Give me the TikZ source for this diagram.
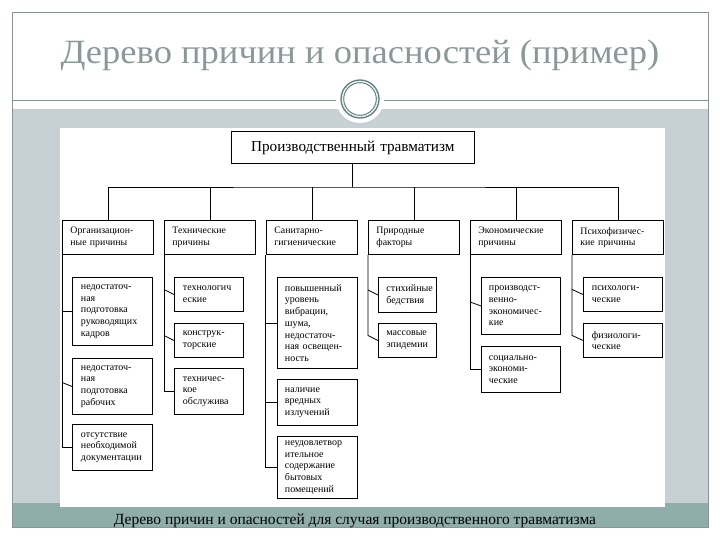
\documentclass[tikz,border=0pt]{standalone}
\usepackage{fontspec}
\setmainfont{Liberation Serif}
\usetikzlibrary{calc}
\definecolor{bandgray}{HTML}{C6D0D5}
\definecolor{bandteal}{HTML}{8FADAB}
\definecolor{framecol}{HTML}{8A9494}
\definecolor{titlecol}{HTML}{8A9898}
\definecolor{ringcol}{HTML}{5F8080}
\tikzset{
  bx/.style={draw=black, line width=0.9pt, fill=white, anchor=north west, align=left, inner ysep=2pt},
  lvtwo/.style={bx, inner xsep=8pt, text width=75pt, minimum height=34pt, font=\fontsize{9.8}{11.5}\selectfont},
  lvthree/.style={bx, inner xsep=8.5pt, font=\fontsize{10}{11.7}\selectfont},
  conn/.style={draw=black, line width=0.8pt}
}
\begin{document}
\begin{tikzpicture}[x=1pt, y=-1pt]
\useasboundingbox (0,0) rectangle (720,540);
% slide background
\fill[bandgray] (12,109) rectangle (708,503);
\fill[bandteal] (12,503) rectangle (708,527);
\draw[framecol, line width=0.7pt] (12,12) rectangle (708,527);
\draw[framecol, line width=0.8pt] (12,100) -- (708,100);
\fill[white] (60,128) rectangle (665,507);
\fill[white] (360,99) circle (24);
\draw[ringcol, line width=1.3pt] (360,99) circle (19);
\draw[ringcol, line width=1.0pt] (360,99) circle (16.3);
\draw[ringcol!60, line width=0.6pt, dotted] (360,99) circle (17.7);
\node[text=titlecol, font=\fontsize{34}{40}\selectfont] (title) at (360,55) {\scalebox{1.075}[1]{Дерево причин и опасностей (пример)}};
\node[font=\fontsize{15.5}{18}\selectfont] (caption) at (355,521) {Дерево причин и опасностей для случая производственного травматизма};
% top node
\node[bx, align=center, text width=236pt, minimum height=32pt, font=\fontsize{15.2}{17}\selectfont] (top) at (231,131) {Производственный травматизм};
% level 2
\node[lvtwo] (c1) at (62,220) {Организацион-\\ные причины};
\node[lvtwo] (c2) at (164,220) {Технические\\причины};
\node[lvtwo] (c3) at (266,220) {Санитарно-\\гигиенические\vphantom{р}};
\node[lvtwo] (c4) at (368,220) {Природные\\факторы};
\node[lvtwo] (c5) at (470,220) {Экономические\\причины};
\node[lvtwo] (c6) at (572,220) {Психофизичес-\\кие причины};
% level 3
\node[lvthree, text width=63pt, minimum height=68pt] (b11) at (72,277) {недостаточ-\\ная\\подготовка\\руководящих\\кадров};
\node[lvthree, text width=63pt, minimum height=56pt] (b12) at (72,358) {недостаточ-\\ная\\подготовка\\рабочих};
\node[lvthree, text width=63pt, minimum height=46pt] (b13) at (72,424) {отсутствие\\необходимой\\документации};
\node[lvthree, text width=52pt, minimum height=34pt] (b21) at (174,277) {технологич\\еские};
\node[lvthree, text width=52pt, minimum height=34pt] (b22) at (174,323) {конструк-\\торские};
\node[lvthree, text width=52pt, minimum height=46pt] (b23) at (174,368) {техничес-\\кое\\обслужива};
\node[lvthree, inner xsep=7.5pt, text width=65pt, minimum height=91pt] (b31) at (277,277) {повышенный\\уровень\\вибрации,\\шума,\\недостаточ-\\ная освещен-\\ность};
\node[lvthree, inner xsep=7.5pt, text width=65pt, minimum height=46pt] (b32) at (277,379) {наличие\\вредных\\излучений};
\node[lvthree, inner xsep=7.5pt, text width=65pt, minimum height=62pt] (b33) at (277,436) {неудовлетвор\\ительное\\содержание\\бытовых\\помещений};
\node[lvthree, inner xsep=8pt, text width=42pt, minimum height=35pt] (b41) at (378,277) {стихийные\\бедствия};
\node[lvthree, inner xsep=8pt, text width=42pt, minimum height=34pt] (b42) at (378,323) {массовые\\эпидемии};
\node[lvthree, inner xsep=7.5pt, text width=64pt, minimum height=57pt] (b51) at (481,277) {производст-\\венно-\\экономичес-\\кие};
\node[lvthree, inner xsep=7.5pt, text width=64pt, minimum height=46pt] (b52) at (481,346) {социально-\\экономи-\\ческие};
\node[lvthree, text width=62pt, minimum height=34pt] (b61) at (583,277) {психологи-\\ческие};
\node[lvthree, text width=62pt, minimum height=34pt] (b62) at (583,323) {физиологи-\\ческие};
% connectors level 1 -> 2
\coordinate (bus) at (356,187);
\draw[conn] (top.south) -- (top.south |- bus);
\draw[conn] (c1.north) |- (bus) -| (c6.north);
\foreach \c in {c2,c3,c4,c5} \draw[conn] (\c.north) -- (\c.north |- bus);
% column 1
\draw[conn] (c1.south west) |- (b13.west);
\draw[conn] (b11.west -| c1.south west) -- (b11.west);
\draw[conn] ($(b12.west -| c1.south west)+(0,-4)$) -- (b12.west);
% column 2
\draw[conn] (c2.south west) |- (b23.west);
\draw[conn] ($(b21.west -| c2.south west)+(0,-5)$) -- (b21.west);
\draw[conn] ($(b22.west -| c2.south west)+(0,-5)$) -- (b22.west);
% column 3
\coordinate (v3) at ($(c3.south west)+(-1,0)$);
\draw[conn] (v3) |- (b33.west);
\draw[conn] (b31.west -| v3) -- (b31.west);
\draw[conn] (b32.west -| v3) -- (b32.west);
% column 4
\coordinate (v4) at ($(b42.west -| c4.south west)+(0,-5)$);
\draw[conn] (c4.south west) -- (v4) -- (b42.west);
\draw[conn] ($(b41.west -| c4.south west)+(0,-5)$) -- (b41.west);
% column 5
\draw[conn] (c5.south west) |- (b52.west);
\draw[conn] ($(b51.west -| c5.south west)+(0,-4)$) -- (b51.west);
% column 6
\coordinate (v6) at ($(b62.west -| c6.south west)+(0,-5)$);
\draw[conn] (c6.south west) -- (v6) -- (b62.west);
\draw[conn] ($(b61.west -| c6.south west)+(0,-5)$) -- (b61.west);
\end{tikzpicture}
\end{document}
